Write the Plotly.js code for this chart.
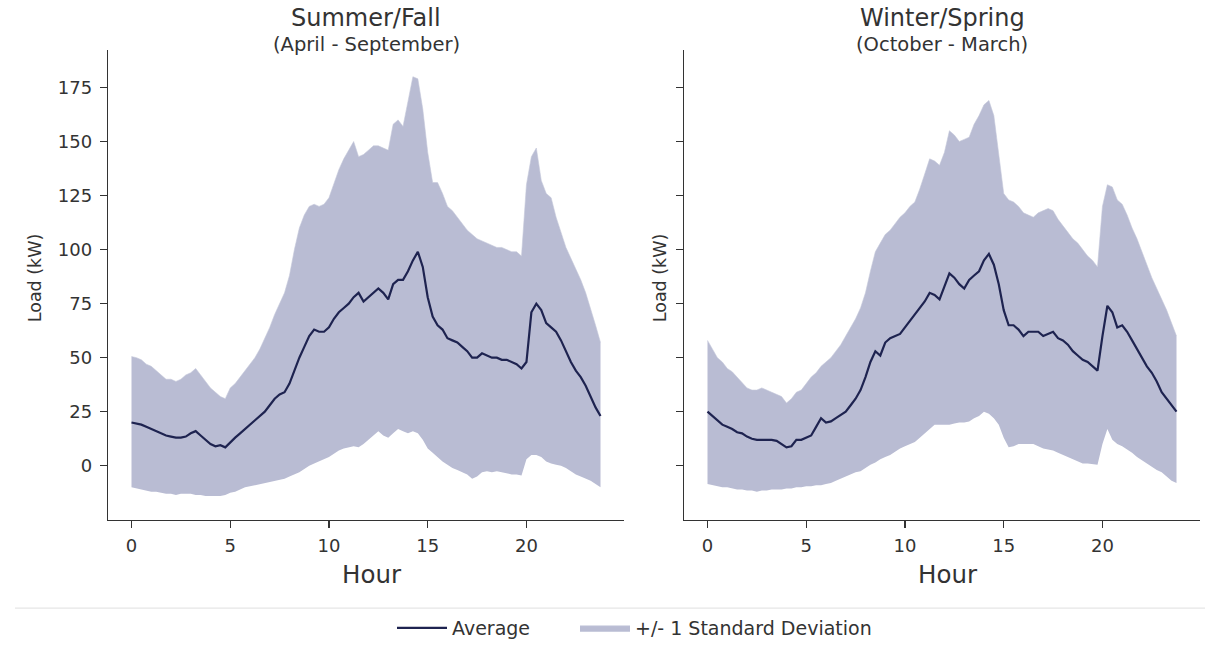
<!DOCTYPE html>
<html>
<head>
<meta charset="utf-8">
<script src="https://cdn.plot.ly/plotly-3.0.1.min.js"></script>
<style>html,body{margin:0;padding:0;background:#fff;}#chart{width:1219px;height:647px;}</style>
</head>
<body>
<div id="chart"></div>
<script>
// Hour of day, 15-minute steps (0 .. 23.75)
const hours = Array.from({length: 96}, (_, i) => i * 0.25);

// Summer/Fall (April - September)
const summerAvg = [20,19.5,19,18,17,16,15,14,13.5,13,13,13.5,15,16,14,12,10,9,9.5,8.5,11,13,15,17,19,21,23,25,28,31,33,34,38,44,50,55,60,63,62,62,64,68,71,73,75,78,80,76,78,80,82,80,77,84,86,86,90,95,99,92,78,69,65,63,59,58,57,55,53,50,50,52,51,50,50,49,49,48,47,45,48,71,75,72,66,64,62,58,53,48,44,41,37,32,27,23];
const summerHi = [50.5,50,49,47,46,44,42,40,40,39,40,42,43,45,42,39,36,34,32,31,36,38,41,44,47,50,54,59,64,70,75,80,88,100,110,116,120,121,120,121,124,131,137,142,146,150,143,144,146,148,148,147,146,158,160,157,168,180,179,165,145,131,131,126,120,118,115,112,109,107,105,104,103,102,101,101,100,99,99,97,130,143,147,132,126,124,115,108,101,96,91,86,80,73,65,57];
const summerLo = [-10,-10.5,-11,-11.5,-12,-12,-12.5,-13,-13,-13.5,-13,-13,-13,-13.5,-13.5,-14,-14,-14,-14,-13.5,-12.5,-12,-11,-10,-9.5,-9,-8.5,-8,-7.5,-7,-6.5,-6,-5,-4,-3,-1.5,0,1,2,3,4,5.5,7,8,8.5,9,8.5,10,12,14,16,14,13,15,17,16,15,16,15,12,8,6,4,2,0.5,-1,-2,-3,-4,-6,-5,-3,-2.5,-3,-2.5,-3,-3.5,-4,-4,-4.5,3,5,5,4,2,1,0.5,0,-1,-2.5,-4,-5,-6,-7,-8.5,-10];

// Winter/Spring (October - March)
const winterAvg = [25,23,21,19,18,17,15.5,15,13.5,12.5,12,12,12,12,11.5,10,8.5,9,12,12,13,14,18,22,20,20.5,22,23.5,25,28,31,35,41,48,53,51,57,59,60,61,64,67,70,73,76,80,79,77,83,89,87,84,82,86,88,90,95,98,93,84,72,65,65,63,60,62,62,62,60,61,62,59,58,56,53,51,49,48,46,44,60,74,71,64,65,62,58,54,50,46,43,39,34,31,28,25];
const winterHi = [58,54,50,48,45,43.5,41,38,36,35,35,36,35,34,33,32,29,31,34,35,38,41,43,46,48,50,53,56,60,64,68,73,80,90,99,103,107,109,112,115,117,120,122,128,135,142,141,139,145,155,153,150,151,152,158,162,167,169,162,145,126,123,122,120,117,116,115,117,118,119,118,114,111,108,105,103,100,97,95,92,120,130,129,123,121,116,110,105,99,93,87,82,77,72,66,60];
const winterLo = [-8.5,-9,-9.5,-10,-10,-10.5,-11,-11,-11.5,-11.5,-12,-11.5,-11.5,-11,-11,-11,-10.5,-10.5,-10,-10,-9.5,-9.5,-9,-9,-8.5,-8,-7,-6,-5,-4,-3,-2.5,-1,0.5,1.5,3,4,5,6.5,8,9,10,11,13,15,17,19,19,19,19,19.5,20,20,20.5,22,23,25,24,22,19,13,8.5,9,10,10,10,10,9,8,7.5,7,6,5,4,3,2,1,1,0.8,0.5,10,17,12,10,9,7.5,6,4,2.5,1,-0.5,-2,-3,-5,-7,-8];

const panelTitles = ["Summer/Fall", "Winter/Spring"];
const panelSubtitles = ["(April - September)", "(October - March)"];
const yTicks = [0, 25, 50, 75, 100, 125, 150, 175];
const xTicks = [0, 5, 10, 15, 20];

const FONT = "DejaVu Sans, Liberation Sans, sans-serif";
const TXT = "#333333";
const BAND = "#b9bcd3";
const LINE = "#1e2350";

const panels = [
  {avg: summerAvg, hi: summerHi, lo: summerLo, xa: "x", ya: "y"},
  {avg: winterAvg, hi: winterHi, lo: winterLo, xa: "x2", ya: "y2"}
];

const traces = [];
panels.forEach((p, k) => {
  traces.push({x: hours, y: p.lo, xaxis: p.xa, yaxis: p.ya, mode: "lines",
    line: {width: 0, color: BAND}, showlegend: false, hoverinfo: "skip"});
  traces.push({x: hours, y: p.hi, xaxis: p.xa, yaxis: p.ya, mode: "lines",
    fill: "tonexty", fillcolor: BAND, line: {width: 0.6, color: "#c4c7da"},
    name: "+/- 1 Standard Deviation", legend: "legend2", showlegend: k === 0});
  traces.push({x: hours, y: p.avg, xaxis: p.xa, yaxis: p.ya, mode: "lines",
    line: {width: 2.2, color: LINE},
    name: "Average", legend: "legend", showlegend: k === 0});
});

const W = 1219, H = 647;
const dom1 = [108 / W, 624 / W];
const dom2 = [684 / W, 1200 / W];
const ydom = [1 - 523 / H, 1 - 50 / H];

function xAxis(domain, anchor) {
  return {domain: domain, anchor: anchor, range: [-1.19, 24.94], tickvals: xTicks,
    ticks: "outside", ticklen: 7, tickwidth: 1.2, tickcolor: "#333",
    showline: true, linecolor: "#333", linewidth: 1.3, showgrid: false, zeroline: false,
    ticklabelstandoff: 2,
    tickfont: {family: FONT, size: 18, color: TXT}, automargin: false};
}
function yAxis(anchor, labels) {
  return {domain: ydom, anchor: anchor, range: [-25, 192.5], tickvals: yTicks,
    ticks: "outside", ticklen: 7, tickwidth: 1.2, tickcolor: "#333",
    showline: true, linecolor: "#333", linewidth: 1.3, showgrid: false, zeroline: false,
    ticklabelstandoff: 4,
    showticklabels: labels, tickfont: {family: FONT, size: 18, color: TXT}, automargin: false};
}

const annotations = [];
[dom1, dom2].forEach((d, k) => {
  const cx = (d[0] + d[1]) / 2;
  annotations.push({text: panelTitles[k], xref: "paper", yref: "paper", x: cx, y: 1 - 18 / H,
    showarrow: false, xanchor: "center", yanchor: "middle", borderpad: 0,
    font: {family: FONT, size: 24, color: TXT}});
  annotations.push({text: panelSubtitles[k], xref: "paper", yref: "paper", x: cx, y: 1 - 45 / H,
    showarrow: false, xanchor: "center", yanchor: "middle", borderpad: 0,
    font: {family: FONT, size: 19.5, color: TXT}});
  annotations.push({text: "Hour", xref: "paper", yref: "paper", x: cx + 0.5 * (12 / W), y: 1 - 578 / H,
    showarrow: false, xanchor: "center", yanchor: "middle", font: {family: FONT, size: 24.5, color: TXT}});
  annotations.push({text: "Load (kW)", xref: "paper", yref: "paper", x: (k === 0 ? 35 : 660) / W, y: 1 - 280 / H,
    showarrow: false, textangle: -90, xanchor: "center", yanchor: "middle", font: {family: FONT, size: 17.5, color: TXT}});
});

const legendBase = {orientation: "h", xanchor: "left", y: 1 - 632 / H, yanchor: "middle",
  font: {family: FONT, size: 19, color: TXT}, bgcolor: "rgba(0,0,0,0)", itemwidth: 50};

const layout = {
  width: W, height: H,
  margin: {l: 0, r: 0, t: 0, b: 0},
  paper_bgcolor: "#ffffff", plot_bgcolor: "#ffffff",
  xaxis: xAxis(dom1, "y"), yaxis: yAxis("x", true),
  xaxis2: xAxis(dom2, "y2"), yaxis2: yAxis("x2", false),
  annotations: annotations,
  shapes: [{type: "line", xref: "paper", yref: "paper", x0: 15 / W, x1: 1205 / W,
    y0: 1 - 612 / H, y1: 1 - 612 / H, line: {color: "#e6e6e6", width: 1.2}}],
  showlegend: true,
  legend: Object.assign({}, legendBase, {x: 392 / W}),
  legend2: Object.assign({}, legendBase, {x: 575 / W}),
  font: {family: FONT, color: TXT}
};

Plotly.newPlot("chart", traces, layout, {displayModeBar: false, staticPlot: true});
</script>
</body>
</html>
